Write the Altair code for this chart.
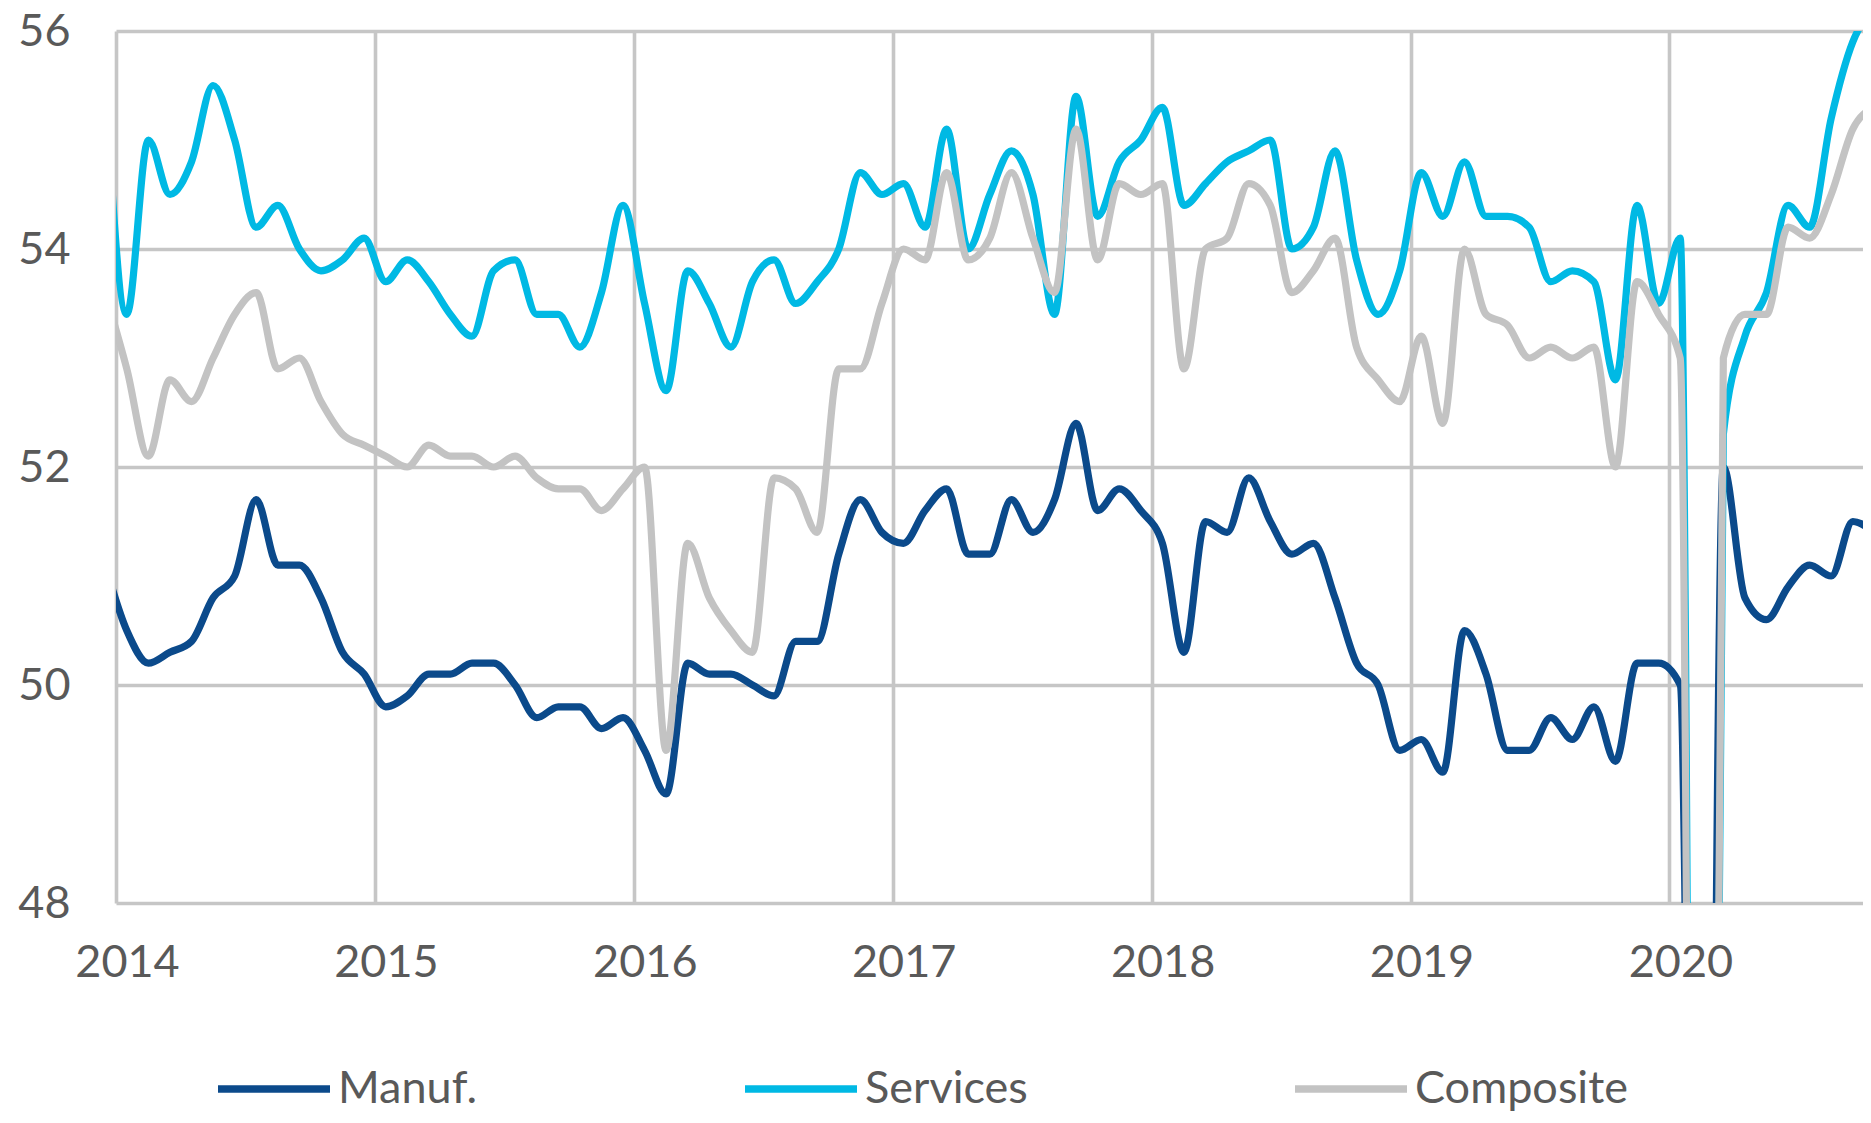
import altair as alt
import pandas as pd

# ---- data (China PMI, monthly; first month only shapes the line at the left edge) ----
months = (
    ["2013-12"]
    + [f"{y}-{m:02d}" for y in range(2014, 2020) for m in range(1, 13)]
    + [f"2020-{m:02d}" for m in range(1, 11)]
)

manuf = [
    51.1,
    50.5, 50.2, 50.3, 50.4, 50.8, 51.0, 51.7, 51.1, 51.1, 50.8, 50.3, 50.1,
    49.8, 49.9, 50.1, 50.1, 50.2, 50.2, 50.0, 49.7, 49.8, 49.8, 49.6, 49.7,
    49.4, 49.0, 50.2, 50.1, 50.1, 50.0, 49.9, 50.4, 50.4, 51.2, 51.7, 51.4,
    51.3, 51.6, 51.8, 51.2, 51.2, 51.7, 51.4, 51.7, 52.4, 51.6, 51.8, 51.6,
    51.3, 50.3, 51.5, 51.4, 51.9, 51.5, 51.2, 51.3, 50.8, 50.2, 50.0, 49.4,
    49.5, 49.2, 50.5, 50.1, 49.4, 49.4, 49.7, 49.5, 49.8, 49.3, 50.2, 50.2,
    50.0, 35.7, 52.0, 50.8, 50.6, 50.9, 51.1, 51.0, 51.5, 51.4,
]

services = [
    55.5,
    53.4, 55.0, 54.5, 54.8, 55.5, 55.0, 54.2, 54.4, 54.0, 53.8, 53.9, 54.1,
    53.7, 53.9, 53.7, 53.4, 53.2, 53.8, 53.9, 53.4, 53.4, 53.1, 53.6, 54.4,
    53.5, 52.7, 53.8, 53.5, 53.1, 53.7, 53.9, 53.5, 53.7, 54.0, 54.7, 54.5,
    54.6, 54.2, 55.1, 54.0, 54.5, 54.9, 54.5, 53.4, 55.4, 54.3, 54.8, 55.0,
    55.3, 54.4, 54.6, 54.8, 54.9, 55.0, 54.0, 54.2, 54.9, 53.9, 53.4, 53.8,
    54.7, 54.3, 54.8, 54.3, 54.3, 54.2, 53.7, 53.8, 53.7, 52.8, 54.4, 53.5,
    54.1, 29.6, 52.3, 53.2, 53.6, 54.4, 54.2, 55.2, 55.9, 56.2,
]

composite = [
    53.6,
    52.9, 52.1, 52.8, 52.6, 53.0, 53.4, 53.6, 52.9, 53.0, 52.6, 52.3, 52.2,
    52.1, 52.0, 52.2, 52.1, 52.1, 52.0, 52.1, 51.9, 51.8, 51.8, 51.6, 51.8,
    52.0, 49.4, 51.3, 50.8, 50.5, 50.3, 51.9, 51.8, 51.4, 52.9, 52.9, 53.5,
    54.0, 53.9, 54.7, 53.9, 54.1, 54.7, 54.1, 53.6, 55.1, 53.9, 54.6, 54.5,
    54.6, 52.9, 54.0, 54.1, 54.6, 54.4, 53.6, 53.8, 54.1, 53.1, 52.8, 52.6,
    53.2, 52.4, 54.0, 53.4, 53.3, 53.0, 53.1, 53.0, 53.1, 52.0, 53.7, 53.4,
    53.0, 28.9, 53.0, 53.4, 53.4, 54.2, 54.1, 54.5, 55.1, 55.3,
]

series_names = ["Manuf.", "Services", "Composite"]
series_colors = ["#0B4A8B", "#00B9E4", "#C3C3C3"]
year_ticks = [2014, 2015, 2016, 2017, 2018, 2019, 2020]
y_ticks = [48, 50, 52, 54, 56]

# ---- table ----
def frac_year(s):
    y, m = s.split("-")
    return int(y) + (int(m) - 0.5) / 12.0

rows = []
for name, vals in zip(series_names, [manuf, services, composite]):
    for mo, v in zip(months, vals):
        rows.append({"t": frac_year(mo), "value": v, "series": name})
df = pd.DataFrame(rows)

FONT = "Lato"
TXT = "#595959"
FS = 45
W, H = 1747, 872
X_END = 2014 + W / 258.9

color = alt.Color(
    "series:N",
    scale=alt.Scale(domain=series_names, range=series_colors),
    legend=alt.Legend(
        title=None,
        orient="none",
        direction="horizontal",
        columns=3,
        gridAlign="each",
        columnPadding=252,
        legendX=98,
        legendY=998,
        padding=0,
        symbolType="stroke",
        symbolSize=12544,
        symbolStrokeWidth=7.5,
        labelFont=FONT,
        labelFontSize=FS,
        labelColor=TXT,
        labelOffset=4,
        labelLimit=400,
    ),
)

x_enc = alt.X(
    "t:Q",
    scale=alt.Scale(domain=[2014, X_END], nice=False, zero=False),
    axis=alt.Axis(
        values=year_ticks,
        format="d",
        title=None,
        grid=True,
        ticks=False,
        domain=False,
        labelPadding=37,
        labelOffset=11,
        labelFlush=False,
        labelOverlap=False,
    ),
)
y_enc = alt.Y(
    "value:Q",
    scale=alt.Scale(domain=[48, 56], nice=False, zero=False),
    axis=alt.Axis(
        values=y_ticks,
        title=None,
        grid=True,
        ticks=False,
        domain=False,
        labelPadding=46,
    ),
)

layers = []
for name in series_names:
    layers.append(
        alt.Chart(df)
        .transform_filter(alt.datum.series == name)
        .mark_line(
            interpolate="monotone",
            strokeWidth=7.2,
            clip=True,
            strokeCap="round",
            strokeJoin="round",
        )
        .encode(x=x_enc, y=y_enc, color=color, order="t:Q")
    )

chart = (
    alt.layer(*layers)
    .properties(
        width=W,
        height=H,
        autosize=alt.AutoSizeParams(type="none"),
        padding={"left": 108, "top": 23, "right": 0, "bottom": 212},
    )
    .configure_view(stroke=None)
    .configure_axis(
        gridColor="#C6C6C6",
        gridWidth=3.6,
        labelFont=FONT,
        labelFontSize=FS,
        labelColor=TXT,
    )
)

chart.save("out.html", embed_options={"renderer": "svg", "actions": False})
